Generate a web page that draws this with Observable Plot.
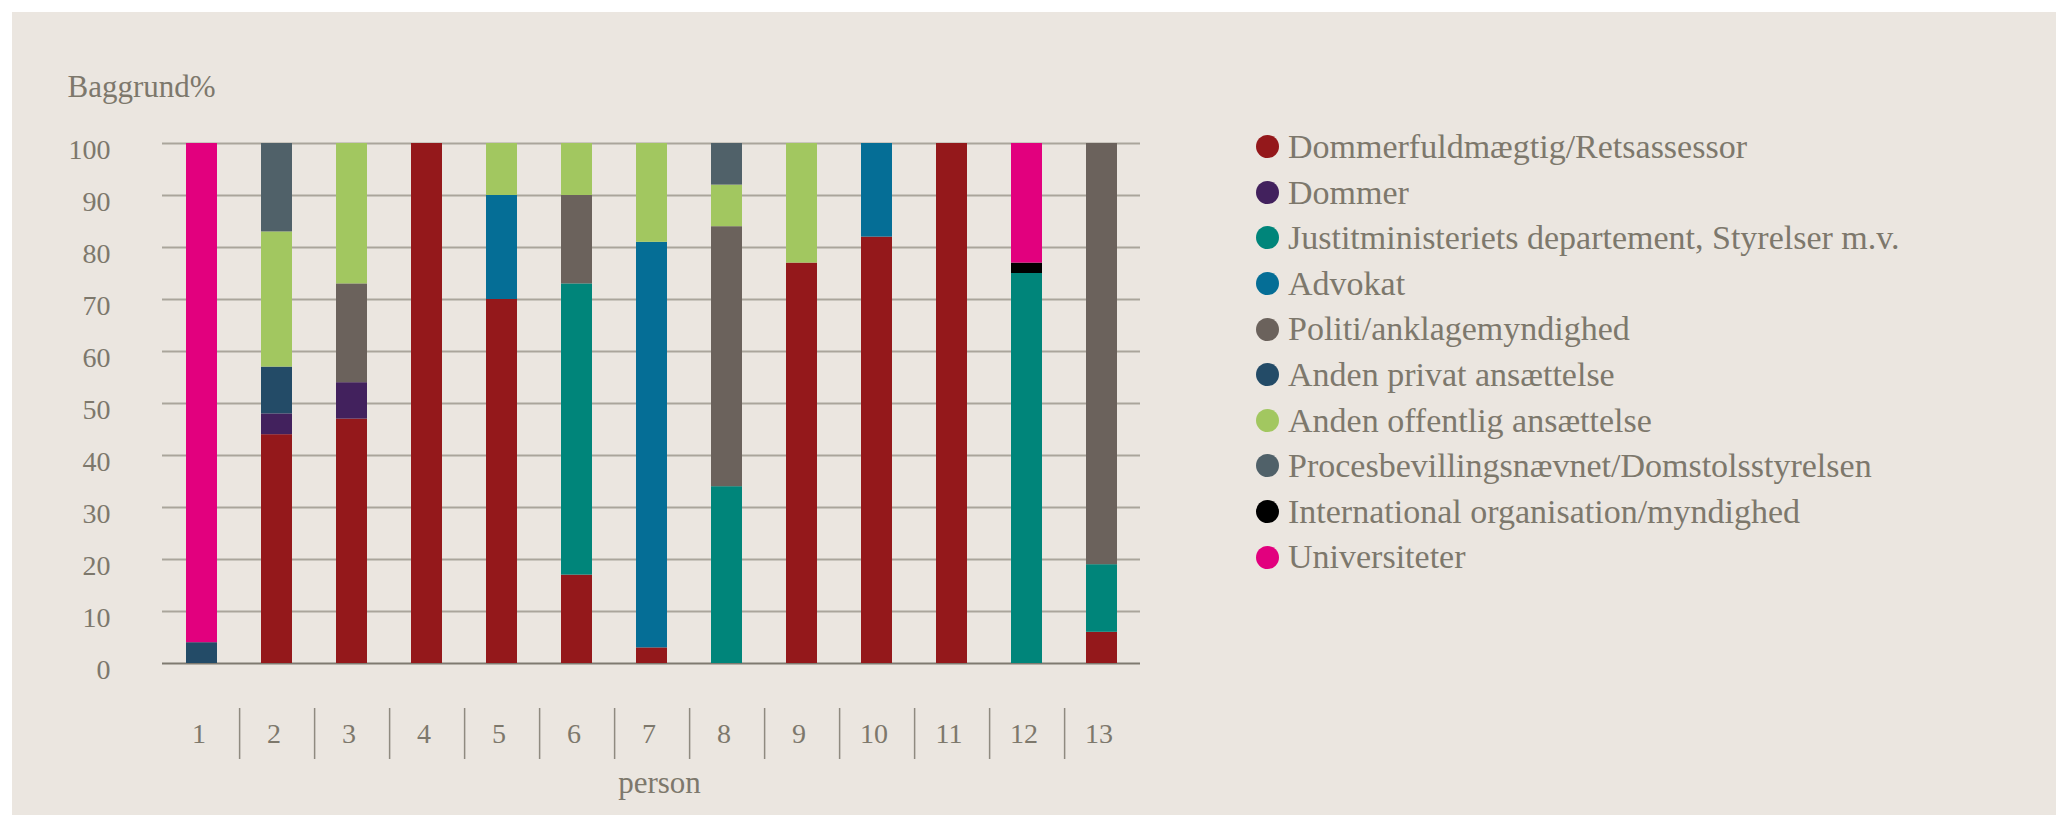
<!DOCTYPE html>
<html>
<head>
<meta charset="utf-8">
<script src="https://cdn.jsdelivr.net/npm/d3@7"></script>
<script src="https://cdn.jsdelivr.net/npm/@observablehq/plot@0.6"></script>
<style>
  html, body { margin: 0; padding: 0; background: #ffffff; }
  #panel { position: absolute; left: 12px; top: 12px; width: 2044px; height: 803px; background: #ebe6e0; overflow: hidden; }
  #chart { position: absolute; left: 0; top: 0; }
  #legend { position: absolute; left: 1244px; top: 112px; font-family: "Liberation Serif", serif; font-size: 34px; color: #7d786c; }
  .row { display: flex; align-items: center; height: 45.6px; line-height: 45.6px; white-space: nowrap; }
  .sw { width: 23px; height: 23px; border-radius: 50%; margin-right: 9px; flex: none; }
</style>
</head>
<body>
<div id="panel">
  <div id="chart"></div>
  <div id="legend"></div>
</div>
<script>
// ---- data ----
const persons = ["1","2","3","4","5","6","7","8","9","10","11","12","13"];
const categories = [
  "Dommerfuldmægtig/Retsassessor",
  "Dommer",
  "Justitministeriets departement, Styrelser m.v.",
  "Advokat",
  "Politi/anklagemyndighed",
  "Anden privat ansættelse",
  "Anden offentlig ansættelse",
  "Procesbevillingsnævnet/Domstolsstyrelsen",
  "International organisation/myndighed",
  "Universiteter"
];
const colors = ["#94181b","#42215d","#00857a","#056e96","#6b625c","#234b67","#a2c760","#506169","#000000","#e2007e"];
const dommerfuldmaegtig = [0,44,47,100,70,17,3,0,77,82,100,0,6];
const dommer            = [0,4,7,0,0,0,0,0,0,0,0,0,0];
const justitministeriet = [0,0,0,0,0,56,0,34,0,0,0,75,13];
const advokat           = [0,0,0,0,20,0,78,0,0,18,0,0,0];
const politi            = [0,0,19,0,0,17,0,50,0,0,0,0,81];
const andenPrivat       = [4,9,0,0,0,0,0,0,0,0,0,0,0];
const andenOffentlig    = [0,26,27,0,10,10,19,8,23,0,0,0,0];
const procesbevilling   = [0,17,0,0,0,0,0,8,0,0,0,0,0];
const international     = [0,0,0,0,0,0,0,0,0,0,0,2,0];
const universiteter     = [96,0,0,0,0,0,0,0,0,0,0,23,0];
const yTicks = [0,10,20,30,40,50,60,70,80,90,100];
const yLabel = "Baggrund%";
const xLabel = "person";

const series = [dommerfuldmaegtig, dommer, justitministeriet, advokat, politi,
  andenPrivat, andenOffentlig, procesbevilling, international, universiteter];
const table = [];
categories.forEach((c, ci) => {
  persons.forEach((p, pi) => {
    table.push({person: p, category: c, value: series[ci][pi]});
  });
});

// ---- layout ----
const W = 2044, H = 803;
const mL = 150, mR = 916, mT = 131, mB = 152;
const step = (W - mL - mR) / persons.length;
const textColor = "#7d786c";

const chart = Plot.plot({
  width: W, height: H,
  marginLeft: mL, marginRight: mR, marginTop: mT, marginBottom: mB,
  style: {background: "transparent", fontFamily: "'Liberation Serif', serif", color: textColor, overflow: "visible"},
  x: {domain: persons, paddingInner: 0.59, paddingOuter: 0.295, label: null},
  y: {domain: [0, 100], label: null},
  color: {domain: categories, range: colors},
  marks: [
    Plot.ruleY(yTicks.filter(t => t > 0), {stroke: "#aaa59b", strokeWidth: 2}),
    Plot.ruleY([0], {stroke: "#7f7a70", strokeWidth: 2}),
    Plot.barY(table, {x: "person", y: "value", fill: "category", order: categories}),
    Plot.axisY({ticks: yTicks, tickSize: 0, tickPadding: 52, fontSize: 28, dy: 7, label: null}),
    Plot.axisX({tickSize: 0, tickPadding: 60, fontSize: 28, dx: -3, label: null}),
    Plot.axisX({ticks: persons.slice(0, -1), tickSize: 51, text: null, dx: step / 2, dy: 45,
                stroke: "#8f8a80", strokeWidth: 1.5, label: null}),
    Plot.text([yLabel], {frameAnchor: "top-left", dx: -95, dy: -47, lineAnchor: "bottom",
                         textAnchor: "start", fontSize: 31, fill: textColor}),
    Plot.text([xLabel], {frameAnchor: "bottom", dx: 8, dy: 129, lineAnchor: "bottom",
                         fontSize: 31, fill: textColor})
  ]
});
document.getElementById("chart").appendChild(chart);

// ---- legend ----
const legend = document.getElementById("legend");
categories.forEach((c, i) => {
  const row = document.createElement("div");
  row.className = "row";
  const sw = document.createElement("span");
  sw.className = "sw";
  sw.style.background = colors[i];
  const t = document.createElement("span");
  t.textContent = c;
  row.appendChild(sw);
  row.appendChild(t);
  legend.appendChild(row);
});
</script>
</body>
</html>
